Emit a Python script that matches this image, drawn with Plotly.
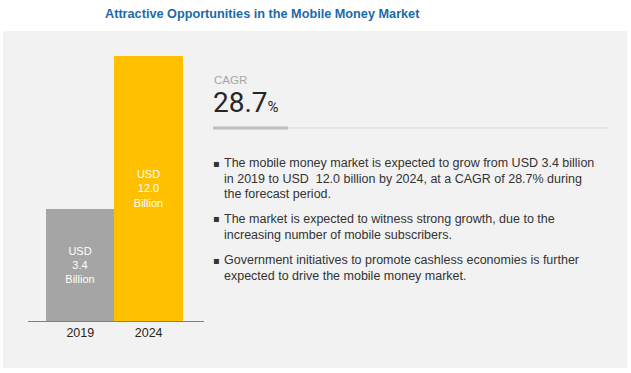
import plotly.graph_objects as go
import math

W, H = 631, 373
years = ["2019", "2024"]
values = [3.4, 12.0]
bar_colors = ["#a5a5a5", "#ffc000"]
bar_labels = ["USD<br>3.4<br>Billion", "USD<br>12.0<br>Billion"]
title = "Attractive Opportunities in the Mobile Money Market"
cagr_label = "CAGR"
cagr_value = "28.7"
bullets = [
    ["The mobile money market is expected to grow from USD 3.4 billion",
     "in 2019 to USD  12.0 billion by 2024, at a CAGR of 28.7% during",
     "the forecast period."],
    ["The market is expected to witness strong growth, due to the",
     "increasing number of mobile subscribers."],
    ["Government initiatives to promote cashless economies is further",
     "expected to drive the mobile money market."],
]

FONT = "Liberation Sans, Arial, sans-serif"

def px(x):
    return x / W

def py(y):
    return 1 - y / H

fig = go.Figure()
fig.add_trace(go.Bar(
    x=years, y=values, marker=dict(color=bar_colors, line=dict(width=0)),
    text=bar_labels, textposition="inside", insidetextanchor="middle",
    textfont=dict(color="#ffffff", size=11, family=FONT),
    textangle=0, hoverinfo="skip", width=1.0,
))

shapes = [
    dict(type="rect", xref="paper", yref="paper", x0=px(3), x1=px(627), y0=py(368), y1=py(31),
         fillcolor="#f2f2f2", line=dict(width=0), layer="below"),
    dict(type="line", xref="paper", yref="paper", x0=px(213), x1=px(608), y0=py(128), y1=py(128),
         line=dict(color="#d9d9d9", width=1)),
    dict(type="line", xref="paper", yref="paper", x0=px(213), x1=px(288), y0=py(128), y1=py(128),
         line=dict(color="#bfbfbf", width=3)),
]

ann = [
    dict(text="<b>" + title + "</b>", x=px(262), y=py(14), xref="paper", yref="paper",
         showarrow=False, xanchor="center", yanchor="middle",
         font=dict(family=FONT, size=12.7, color="#1a6aab")),
    dict(text=cagr_label, x=px(212), y=py(80), xref="paper", yref="paper",
         showarrow=False, xanchor="left", yanchor="middle",
         font=dict(family=FONT, size=11.5, color="#a6a6a6")),
    dict(text=cagr_value + "<span style='font-size:15px'>%</span>", x=px(211), y=py(103),
         xref="paper", yref="paper", showarrow=False, xanchor="left", yanchor="middle",
         font=dict(family="Roboto, sans-serif", size=28, color="#262626")),
]

starts = [163, 219, 260]
for b, y0 in zip(bullets, starts):
    ann.append(dict(text="\u25aa", x=px(211), y=py(y0), xref="paper", yref="paper",
                    showarrow=False, xanchor="left", yanchor="middle",
                    font=dict(family="DejaVu Sans", size=10, color="#333333")))
    for i, line in enumerate(b):
        ann.append(dict(text=line, x=px(222), y=py(y0 + i * 15.5), xref="paper", yref="paper",
                        showarrow=False, xanchor="left", yanchor="middle",
                        font=dict(family=FONT, size=12.5, color="#333333")))

fig.update_layout(
    width=W, height=H, margin=dict(l=0, r=0, t=0, b=0),
    paper_bgcolor="#ffffff", plot_bgcolor="rgba(0,0,0,0)",
    bargap=0, showlegend=False, shapes=shapes, annotations=ann,
    xaxis=dict(domain=[px(28), px(204)], type="category", range=[-0.765, 1.81],
               showline=True, linecolor="#808080", linewidth=1, ticks="",
               tickfont=dict(family=FONT, size=12.5, color="#262626"), showgrid=False, fixedrange=True),
    yaxis=dict(domain=[py(321), py(56)], type="log", range=[math.log10(1.35), math.log10(12.0)],
               visible=False, showgrid=False, fixedrange=True),
)

fig.write_html("out.html", config={"displayModeBar": False},
               post_script="document.body.style.margin='0';document.body.style.padding='0';")
